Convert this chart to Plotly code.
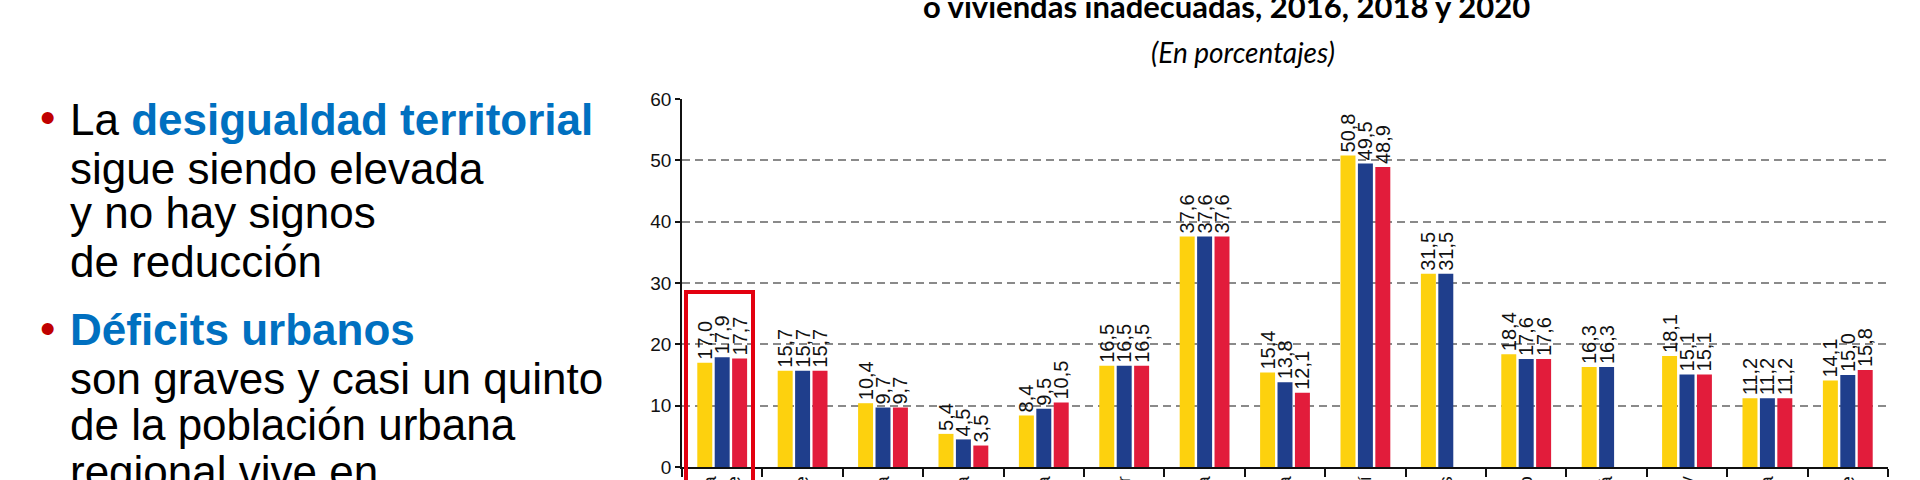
"""Población urbana en barrios marginales, 2016, 2018 y 2020"""
import plotly.graph_objects as go

# datos
paises = ["América Latina<br>y el Caribe", "Chile", "Colombia", "Costa Rica", "Cuba",
          "Ecuador", "Guatemala", "Guyana", "Haití", "Honduras", "México",
          "Panamá", "Paraguay", "República Dominicana", "Suriname"]
anios = ["2016", "2018", "2020"]
v2016 = [17.0, 15.7, 10.4, 5.4, 8.4, 16.5, 37.6, 15.4, 50.8, 31.5, 18.4, 16.3, 18.1, 11.2, 14.1]
v2018 = [17.9, 15.7, 9.7, 4.5, 9.5, 16.5, 37.6, 13.8, 49.5, 31.5, 17.6, 16.3, 15.1, 11.2, 15.0]
v2020 = [17.7, 15.7, 9.7, 3.5, 10.5, 16.5, 37.6, 12.1, 48.9, None, 17.6, None, 15.1, 11.2, 15.8]
colores = ["#FDD10E", "#1F3E8C", "#E21C3B"]
y_ticks = [0, 10, 20, 30, 40, 50, 60]

# zona del gráfico en píxeles
W, H = 1920, 480
X0, X1 = 682, 1888
Y0, Y1 = 467, 99


def px(x):
    """píxel horizontal -> coordenada paper"""
    return (x - X0) / (X1 - X0)


def py(y):
    """píxel vertical -> coordenada paper"""
    return (Y0 - y) / (Y0 - Y1)


NARROW = "Liberation Sans Narrow, Arial Narrow, Liberation Sans, Arial"
ARIAL = "Liberation Sans, Arial"

fig = go.Figure()
for nombre, valores, color in zip(anios, [v2016, v2018, v2020], colores):
    fig.add_trace(go.Bar(
        x=paises, y=valores, name=nombre, marker_color=color,
        marker_line_width=0,
        texttemplate="%{y:.1f}", textposition="outside", textangle=-90,
        textfont=dict(family=NARROW, size=20, color="#111111"),
        constraintext="none", cliponaxis=False,
    ))

fig.update_layout(
    width=W, height=H,
    margin=dict(l=X0, r=W - X1, t=Y1, b=H - Y0),
    paper_bgcolor="white", plot_bgcolor="white",
    barmode="group", bargap=0.35, bargroupgap=0.14,
    showlegend=False, separators=",.",
    font=dict(family=NARROW, color="#111111"),
)
fig.update_xaxes(
    type="category", range=[-0.5, len(paises) - 0.5],
    showline=True, linecolor="#111111", linewidth=2,
    ticks="outside", tickson="boundaries", ticklen=8, tickwidth=1.5,
    tickcolor="#111111", tickangle=-90, automargin=False,
    tickfont=dict(family=NARROW, size=18, color="#111111"),
    showgrid=False,
)
fig.update_yaxes(
    range=[0, 60], tickvals=y_ticks, zeroline=False,
    showline=True, linecolor="#111111", linewidth=1.5,
    ticks="outside", ticklen=5, tickwidth=1.5, tickcolor="#111111",
    tickfont=dict(family=NARROW, size=19, color="#111111"),
    showgrid=True, gridcolor="#8a8a8a", gridwidth=1.5, griddash="8px,5px",
    automargin=False,
)

# recuadro rojo y corte de la línea de 30
fig.add_shape(type="rect", xref="paper", yref="paper",
              x0=px(686), x1=px(753), y0=py(500), y1=py(292),
              line=dict(color="#E3000F", width=4), layer="above")
fig.add_shape(type="rect", xref="paper", yref="y",
              x0=px(832), x1=px(880), y0=29, y1=31,
              fillcolor="white", line_width=0, layer="between")

# título
fig.add_annotation(text="<b>o viviendas inadecuadas, 2016, 2018 y 2020</b>",
                   xref="paper", yref="paper", x=px(1226), y=py(6),
                   showarrow=False, xanchor="center", yanchor="middle",
                   font=dict(family="Lato", size=31, color="black"))
fig.add_annotation(text="<i>(En porcentajes)</i>",
                   xref="paper", yref="paper", x=px(1243), y=py(52),
                   showarrow=False, xanchor="center", yanchor="middle",
                   font=dict(family="Lato", size=28, color="black"))

# texto de la izquierda
AZUL = "#0070C0"
lineas = [
    ("•", "La <b><span style='color:%s'>desigualdad territorial</span></b>" % AZUL, 119),
    ("", "sigue siendo elevada", 168),
    ("", "y no hay signos", 212),
    ("", "de reducción", 261),
    ("•", "<b><span style='color:%s'>Déficits urbanos</span></b>" % AZUL, 329),
    ("", "son graves y casi un quinto", 378),
    ("", "de la población urbana", 424),
    ("", "regional vive en", 472),
]
for bala, texto, yy in lineas:
    if bala:
        fig.add_annotation(text=bala, xref="paper", yref="paper",
                           x=px(47), y=py(yy - 1), showarrow=False,
                           xanchor="center", yanchor="middle",
                           font=dict(family=ARIAL, size=44, color="#C00000"))
    fig.add_annotation(text=texto, xref="paper", yref="paper",
                       x=px(68), y=py(yy), showarrow=False,
                       xanchor="left", yanchor="middle",
                       font=dict(family=ARIAL, size=44, color="black"))

fig.write_html("out.html", config={"displayModeBar": False},
               post_script="document.body.style.margin='0';")
